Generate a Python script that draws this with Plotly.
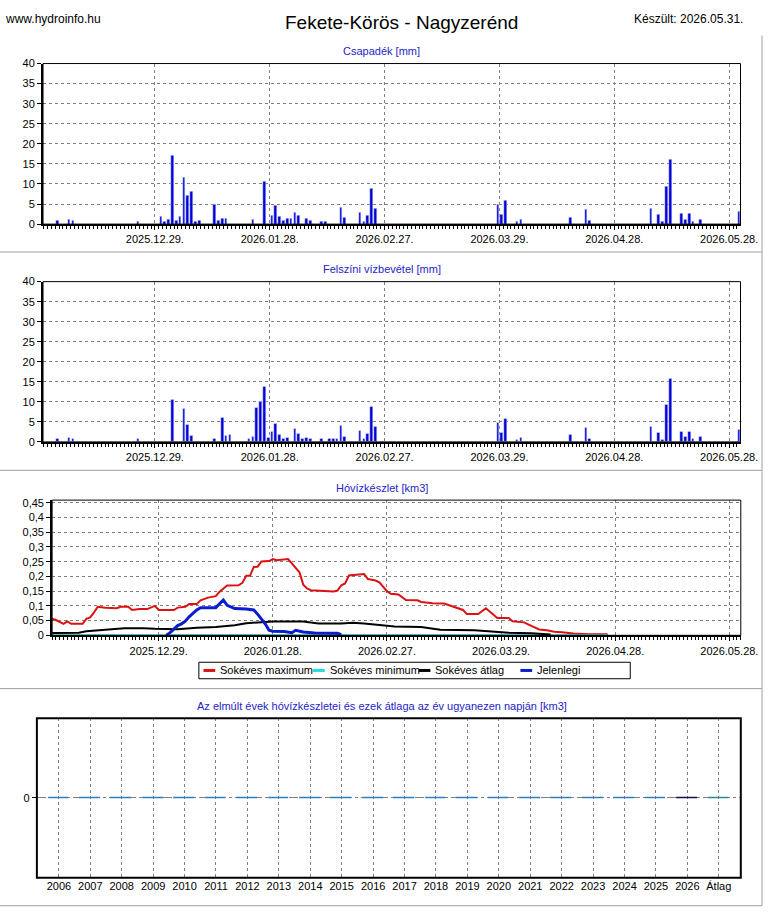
import pandas as pd
import plotly.graph_objects as go

W, H = 780, 913

# Csapadék [mm] - napi értékek
csapadek_nap = ["2025-12-03", "2025-12-06", "2025-12-07", "2025-12-24", "2025-12-30", "2025-12-31",
                "2026-01-01", "2026-01-02", "2026-01-03", "2026-01-04", "2026-01-05", "2026-01-06",
                "2026-01-07", "2026-01-08", "2026-01-09", "2026-01-13", "2026-01-14", "2026-01-15",
                "2026-01-16", "2026-01-23", "2026-01-26", "2026-01-28", "2026-01-29", "2026-01-30",
                "2026-01-31", "2026-02-01", "2026-02-02", "2026-02-03", "2026-02-04", "2026-02-06",
                "2026-02-07", "2026-02-10", "2026-02-11", "2026-02-15", "2026-02-16", "2026-02-20",
                "2026-02-21", "2026-02-22", "2026-02-23", "2026-02-24", "2026-03-28", "2026-03-29",
                "2026-03-30", "2026-04-02", "2026-04-03", "2026-04-16", "2026-04-20", "2026-04-21",
                "2026-05-07", "2026-05-09", "2026-05-10", "2026-05-11", "2026-05-12", "2026-05-15",
                "2026-05-16", "2026-05-17", "2026-05-18", "2026-05-20", "2026-05-30"]
csapadek_mm = [1.0, 1.2, 1.0, 0.7, 2.0, 0.7,
               1.2, 17.0, 1.0, 2.0, 11.6, 7.1,
               8.1, 0.7, 1.0, 4.8, 1.0, 1.5,
               1.5, 1.2, 10.6, 2.2, 4.7, 2.0,
               1.0, 1.5, 1.5, 3.0, 2.2, 1.5,
               1.0, 0.7, 0.7, 4.2, 1.7, 3.0,
               0.7, 2.2, 8.9, 3.9, 4.9, 2.3,
               5.9, 0.6, 1.1, 1.7, 3.7, 0.9,
               3.9, 2.4, 0.6, 9.3, 16.0, 2.7,
               1.2, 2.7, 0.7, 1.2, 3.2]

# Felszíni vízbevétel [mm]
vizbevetel_nap = ["2025-12-03", "2025-12-06", "2025-12-07", "2025-12-24", "2026-01-02", "2026-01-05",
                  "2026-01-06", "2026-01-07", "2026-01-13", "2026-01-15", "2026-01-16", "2026-01-17",
                  "2026-01-22", "2026-01-23", "2026-01-24", "2026-01-25", "2026-01-26", "2026-01-27",
                  "2026-01-28", "2026-01-29", "2026-01-30", "2026-01-31", "2026-02-01", "2026-02-03",
                  "2026-02-04", "2026-02-05", "2026-02-06", "2026-02-07", "2026-02-10", "2026-02-12",
                  "2026-02-13", "2026-02-14", "2026-02-15", "2026-02-16", "2026-02-20", "2026-02-21",
                  "2026-02-22", "2026-02-23", "2026-02-24", "2026-03-28", "2026-03-29", "2026-03-30",
                  "2026-04-02", "2026-04-03", "2026-04-16", "2026-04-20", "2026-04-21", "2026-05-07",
                  "2026-05-09", "2026-05-10", "2026-05-11", "2026-05-12", "2026-05-15", "2026-05-16",
                  "2026-05-17", "2026-05-18", "2026-05-20", "2026-05-30"]
vizbevetel_mm = [0.9, 1.1, 0.9, 0.7, 10.5, 8.3,
                 4.4, 1.6, 0.9, 6.1, 1.6, 1.9,
                 0.7, 1.4, 8.5, 10.0, 13.7, 1.1,
                 2.6, 4.6, 1.9, 0.9, 1.1, 3.4,
                 2.1, 0.7, 1.1, 0.7, 0.7, 0.7,
                 0.7, 0.7, 4.1, 1.4, 2.9, 0.7,
                 2.1, 8.8, 3.9, 4.8, 2.2, 5.8,
                 0.6, 1.1, 1.7, 3.6, 0.9, 3.9,
                 2.4, 0.6, 9.2, 15.9, 2.6, 1.2,
                 2.6, 0.7, 1.2, 3.1]

# Hóvízkészlet [km3]
max_nap = ["2025-12-01", "2025-12-02", "2025-12-04", "2025-12-05", "2025-12-06", "2025-12-09",
           "2025-12-10", "2025-12-11", "2025-12-12", "2025-12-13", "2025-12-15", "2025-12-18",
           "2025-12-19", "2025-12-21", "2025-12-22", "2025-12-24", "2025-12-26", "2025-12-28",
           "2025-12-29", "2026-01-02", "2026-01-03", "2026-01-05", "2026-01-06", "2026-01-08",
           "2026-01-09", "2026-01-11", "2026-01-13", "2026-01-14", "2026-01-16", "2026-01-19",
           "2026-01-20", "2026-01-21", "2026-01-22", "2026-01-23", "2026-01-24", "2026-01-25",
           "2026-01-27", "2026-01-28", "2026-01-29", "2026-01-30", "2026-02-01", "2026-02-02",
           "2026-02-04", "2026-02-05", "2026-02-06", "2026-02-07", "2026-02-10", "2026-02-11",
           "2026-02-13", "2026-02-14", "2026-02-15", "2026-02-16", "2026-02-17", "2026-02-19",
           "2026-02-21", "2026-02-22", "2026-02-24", "2026-02-25", "2026-02-27", "2026-02-28",
           "2026-03-02", "2026-03-04", "2026-03-07", "2026-03-08", "2026-03-11", "2026-03-14",
           "2026-03-17", "2026-03-19", "2026-03-20", "2026-03-23", "2026-03-25", "2026-03-28",
           "2026-03-31", "2026-04-01", "2026-04-04", "2026-04-08", "2026-04-10", "2026-04-12",
           "2026-04-14", "2026-04-17", "2026-04-21", "2026-04-26"]
max_km3 = [0.056, 0.052, 0.039, 0.047, 0.039, 0.039,
           0.056, 0.061, 0.078, 0.097, 0.094, 0.092,
           0.097, 0.097, 0.086, 0.089, 0.089, 0.100,
           0.086, 0.086, 0.094, 0.097, 0.106, 0.106,
           0.119, 0.128, 0.133, 0.148, 0.169, 0.170,
           0.178, 0.202, 0.202, 0.232, 0.233, 0.251,
           0.252, 0.259, 0.255, 0.257, 0.259, 0.244,
           0.214, 0.172, 0.159, 0.153, 0.151, 0.149,
           0.149, 0.152, 0.170, 0.176, 0.203, 0.206,
           0.208, 0.191, 0.186, 0.180, 0.150, 0.141,
           0.139, 0.120, 0.119, 0.113, 0.109, 0.108,
           0.094, 0.086, 0.072, 0.072, 0.092, 0.059,
           0.059, 0.048, 0.044, 0.020, 0.017, 0.012,
           0.010, 0.006, 0.004, 0.004]

min_nap = ["2025-12-01", "2026-04-26"]
min_km3 = [0.0, 0.0]

atlag_nap = ["2025-12-01", "2025-12-08", "2025-12-10", "2025-12-14", "2025-12-20", "2025-12-25",
             "2025-12-28", "2026-01-03", "2026-01-08", "2026-01-13", "2026-01-18", "2026-01-21",
             "2026-01-25", "2026-01-28", "2026-02-05", "2026-02-09", "2026-02-15", "2026-02-18",
             "2026-02-21", "2026-02-26", "2026-03-01", "2026-03-08", "2026-03-13", "2026-03-22",
             "2026-03-27", "2026-03-31", "2026-04-06", "2026-04-11"]
atlag_km3 = [0.008, 0.009, 0.014, 0.019, 0.024, 0.024,
             0.022, 0.021, 0.026, 0.028, 0.034, 0.041,
             0.043, 0.047, 0.047, 0.040, 0.040, 0.043,
             0.040, 0.033, 0.030, 0.028, 0.019, 0.017,
             0.013, 0.009, 0.007, 0.003]

jelen_nap = ["2025-12-31", "2026-01-01", "2026-01-03", "2026-01-04", "2026-01-05", "2026-01-06",
             "2026-01-08", "2026-01-09", "2026-01-13", "2026-01-15", "2026-01-16", "2026-01-18",
             "2026-01-21", "2026-01-23", "2026-01-24", "2026-01-26", "2026-01-27", "2026-01-28",
             "2026-01-31", "2026-02-02", "2026-02-03", "2026-02-05", "2026-02-08", "2026-02-14",
             "2026-02-15"]
jelen_km3 = [0.0, 0.009, 0.033, 0.039, 0.048, 0.063,
             0.086, 0.094, 0.094, 0.120, 0.102, 0.091,
             0.089, 0.086, 0.072, 0.039, 0.017, 0.014,
             0.013, 0.009, 0.017, 0.011, 0.008, 0.007,
             0.002]

# Az elmúlt évek hóvízkészletei az év ugyanezen napján
evek = [str(ev) for ev in range(2006, 2027)] + ["Átlag"]
evek_km3 = [0] * 21 + [0]

# jelmagyarázat
jel_nevek = ["Sokéves maximum", "Sokéves minimum", "Sokéves átlag", "Jelenlegi"]
jel_szinek = ["#dd1111", "#22dddd", "#000000", "#0a1ed0"]

FONT = "Arial, 'Liberation Sans', sans-serif"
KEK = "#0000d8"
CIM_SZIN = "#2424c8"
NAP_MS = 86400000


def px_x(x):
    return x / W


def px_y(y):
    return 1 - y / H


fig = go.Figure()

# napi oszlopok (a nap +0.25..+0.95 közé rajzolva)
fig.add_trace(go.Bar(x=pd.to_datetime(csapadek_nap), y=csapadek_mm, marker_color=KEK,
                     width=0.7 * NAP_MS, offset=0.25 * NAP_MS, showlegend=False,
                     xaxis="x", yaxis="y"))
fig.add_trace(go.Bar(x=pd.to_datetime(vizbevetel_nap), y=vizbevetel_mm, marker_color=KEK,
                     width=0.7 * NAP_MS, offset=0.25 * NAP_MS, showlegend=False,
                     xaxis="x2", yaxis="y2"))

# hóvízkészlet vonalak
for nap, ertek, nev, szin, vastag in [(max_nap, max_km3, jel_nevek[0], jel_szinek[0], 2),
                                      (min_nap, min_km3, jel_nevek[1], jel_szinek[1], 2),
                                      (atlag_nap, atlag_km3, jel_nevek[2], jel_szinek[2], 2),
                                      (jelen_nap, jelen_km3, jel_nevek[3], jel_szinek[3], 3)]:
    fig.add_trace(go.Scatter(x=nap, y=ertek, mode="lines", name=nev, showlegend=False,
                             line=dict(color=szin, width=vastag), xaxis="x3", yaxis="y3"))

# évek összehasonlítása
ev_szinek = ["#2f7fc0"] * 20 + ["#101050", "#2a8a8a"]
fig.add_trace(go.Bar(x=evek, y=evek_km3, marker_color=ev_szinek,
                     marker_line=dict(color=ev_szinek, width=1.5), width=0.66,
                     showlegend=False, xaxis="x4", yaxis="y4"))

tick_font = dict(family=FONT, size=11, color="#000000")

date_axis = dict(type="date", tickformat="%Y.%m.%d.", tick0="2025-12-29", dtick=30 * NAP_MS,
                 showgrid=True, gridcolor="#808080", griddash="3px,3px", gridwidth=1,
                 showline=True, linewidth=2, linecolor="#000000", ticks="outside", ticklen=4,
                 tickcolor="#000000", tickfont=tick_font, zeroline=False,
                 minor=dict(dtick=NAP_MS, ticks="outside", ticklen=3, tickcolor="#000000",
                            showgrid=False))

value_axis = dict(showgrid=True, gridcolor="#808080", griddash="3px,3px", gridwidth=1,
                  showline=True, linewidth=2, linecolor="#000000", ticks="outside", ticklen=4,
                  tickcolor="#000000", tickfont=tick_font, zeroline=False)

bar_range = ["2025-11-29 19:00", "2026-05-30 23:00"]

fig.update_layout(
    width=W, height=H,
    margin=dict(l=0, r=0, t=0, b=0),
    paper_bgcolor="#ffffff", plot_bgcolor="#ffffff",
    separators=",.",
    bargap=0,
    showlegend=False,
    hovermode=False,
    font=dict(family=FONT, size=11, color="#000000"),
    xaxis=dict(date_axis, domain=[px_x(44), px_x(757)], anchor="y", range=bar_range),
    yaxis=dict(value_axis, domain=[px_y(221), px_y(58.3)], anchor="x", range=[0, 40], dtick=5),
    xaxis2=dict(date_axis, domain=[px_x(44), px_x(757)], anchor="y2", range=bar_range),
    yaxis2=dict(value_axis, domain=[px_y(441.7), px_y(279.3)], anchor="x2", range=[0, 40], dtick=5),
    xaxis3=dict(date_axis, domain=[px_x(53.3), px_x(757.3)], anchor="y3",
                range=["2025-12-01", "2026-05-31"]),
    yaxis3=dict(value_axis, domain=[px_y(637.7), px_y(500.7)], anchor="x3", range=[0, 0.459],
                dtick=0.05),
    xaxis4=dict(type="category", domain=[px_x(37.7), px_x(757.3)], anchor="y4",
                showgrid=True, gridcolor="#808080", griddash="3px,3px", showline=False,
                ticks="", tickfont=tick_font, range=[-0.7, 21.7]),
    yaxis4=dict(domain=[px_y(883.3), px_y(721.7)], anchor="x4", range=[-1, 1], tickvals=[0],
                showgrid=True, gridcolor="#808080", griddash="dashdot", zeroline=False,
                showline=False, ticks="outside", ticklen=4, tickcolor="#000000",
                tickfont=tick_font),
)

shapes = []
# vékony keret a grafikonok tetején és jobb oldalán
for xa, ya, w in [("x", "y", 1), ("x2", "y2", 1), ("x3", "y3", 1), ("x4", "y4", 2)]:
    shapes.append(dict(type="rect", xref=xa + " domain", yref=ya + " domain", x0=0, x1=1, y0=0, y1=1,
                       line=dict(color="#000000", width=w), layer="above"))
# panelek szürke elválasztó vonalai
for y in [249.3, 470.5, 691.7, 911.7]:
    shapes.append(dict(type="line", xref="paper", yref="paper", x0=0, x1=px_x(779),
                       y0=px_y(y), y1=px_y(y), line=dict(color="#a0a0a0", width=1)))
shapes.append(dict(type="line", xref="paper", yref="paper", x0=px_x(779), x1=px_x(779),
                   y0=px_y(30), y1=px_y(911.7), line=dict(color="#a0a0a0", width=1)))

# jelmagyarázat doboza
shapes.append(dict(type="rect", xref="paper", yref="paper", x0=px_x(203.3), x1=px_x(644.3),
                   y0=px_y(681.7), y1=px_y(665), line=dict(color="#000000", width=1),
                   fillcolor="#ffffff"))
jel_x = [208, 320, 428, 532]
for x0, szin in zip(jel_x, jel_szinek):
    shapes.append(dict(type="line", xref="paper", yref="paper", x0=px_x(x0), x1=px_x(x0 + 12),
                       y0=px_y(673.3), y1=px_y(673.3), line=dict(color=szin, width=3)))
fig.update_layout(shapes=shapes)

annotations = [
    dict(text="www.hydroinfo.hu", x=px_x(3), y=px_y(13), xanchor="left", yanchor="middle",
         font=dict(family=FONT, size=12, color="#000000")),
    dict(text="Fekete-Körös - Nagyzerénd", x=px_x(410), y=px_y(17), xanchor="center",
         yanchor="middle", font=dict(family=FONT, size=19, color="#000000")),
    dict(text="Készült: 2026.05.31.", x=px_x(762), y=px_y(13), xanchor="right", yanchor="middle",
         font=dict(family=FONT, size=12, color="#000000")),
    dict(text="Csapadék [mm]", x=px_x(390), y=px_y(46), xanchor="center", yanchor="middle",
         font=dict(family=FONT, size=11, color=CIM_SZIN)),
    dict(text="Felszíni vízbevétel [mm]", x=px_x(390), y=px_y(267), xanchor="center",
         yanchor="middle", font=dict(family=FONT, size=11, color=CIM_SZIN)),
    dict(text="Hóvízkészlet [km3]", x=px_x(390), y=px_y(488.3), xanchor="center",
         yanchor="middle", font=dict(family=FONT, size=11, color=CIM_SZIN)),
    dict(text="Az elmúlt évek hóvízkészletei és ezek átlaga az év ugyanezen napján [km3]",
         x=px_x(390), y=px_y(709.3), xanchor="center", yanchor="middle",
         font=dict(family=FONT, size=11, color=CIM_SZIN)),
]
for x0, nev in zip(jel_x, jel_nevek):
    annotations.append(dict(text=nev, x=px_x(x0 + 15), y=px_y(673.3), xanchor="left",
                            yanchor="middle", font=dict(family=FONT, size=11, color="#000000")))
for a in annotations:
    a.update(xref="paper", yref="paper", showarrow=False)
fig.update_layout(annotations=annotations)

# böngésző margó nélkül, az ábra a bal felső sarokban
fig.write_html("out.html", config={"displayModeBar": False}, post_script=(
    "document.body.style.margin='0';"
    "var d=document.getElementById('{plot_id}');"
    "d.style.position='absolute';d.style.left='0px';d.style.top='0px';"))
